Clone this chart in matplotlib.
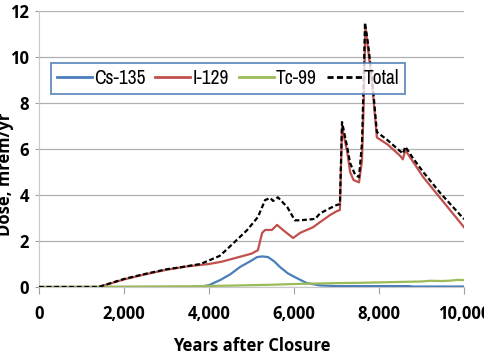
import matplotlib
matplotlib.use("Agg")
import matplotlib.pyplot as plt

# ---- data ----
cs_x = [0, 3600, 3850, 4000, 4260, 4500, 4730, 5000, 5130, 5260, 5390, 5530, 5670, 5850, 6020, 6300, 6610, 7000, 8700, 8800, 10000]
cs_y = [0, 0, 0.03, 0.08, 0.3, 0.55, 0.87, 1.15, 1.3, 1.33, 1.3, 1.12, 0.87, 0.6, 0.43, 0.17, 0.07, 0.04, 0.04, 0.02, 0.02]

i_x = [0, 1400, 2000, 2500, 3000, 3500, 4000, 4300, 4700, 5000, 5150, 5250, 5320, 5480, 5600, 5740, 5980, 6140,
       6450, 6620, 6850, 7010, 7080, 7130, 7250, 7320, 7400, 7530, 7600, 7640, 7680, 7740, 7840, 7950, 8200, 8500,
       8560, 8620, 8800, 9040, 9440, 10000]
i_y = [0, 0, 0.33, 0.55, 0.75, 0.9, 1.0, 1.1, 1.3, 1.45, 1.6, 2.35, 2.48, 2.48, 2.7, 2.48, 2.13, 2.35,
       2.6, 2.83, 3.13, 3.3, 3.35, 6.95, 5.9, 5.0, 4.65, 4.55, 5.5, 8.0, 11.3, 10.4, 8.8, 6.5, 6.2, 5.7,
       5.55, 5.95, 5.45, 4.78, 3.87, 2.6]

tc_x = [0, 1500, 2500, 3500, 4500, 5500, 6000, 6500, 7000, 7500, 8000, 8500, 9000, 9200, 9500, 9700, 9850, 10000]
tc_y = [0, 0.01, 0.02, 0.03, 0.06, 0.1, 0.13, 0.15, 0.17, 0.18, 0.2, 0.22, 0.24, 0.27, 0.26, 0.28, 0.31, 0.3]

tot_x = [0, 1400, 2000, 2500, 3000, 3300, 3800, 4250, 4400, 4570, 4900, 5150, 5320, 5440, 5510, 5620, 5840, 6020,
         6140, 6500, 6610, 6850, 7010, 7080, 7130, 7250, 7320, 7440, 7530, 7600, 7640, 7670, 7740, 7840, 7950,
         8190, 8500, 8560, 8620, 8800, 9040, 9440, 10000]
tot_y = [0, 0, 0.35, 0.57, 0.77, 0.85, 1.0, 1.35, 1.6, 1.9, 2.48, 3.04, 3.78, 3.87, 3.74, 3.9, 3.48, 2.9,
         2.9, 2.96, 3.2, 3.43, 3.57, 3.6, 7.17, 6.1, 5.39, 4.87, 4.78, 6.26, 9.0, 11.5, 10.6, 9.0, 6.74,
         6.4, 5.9, 5.8, 6.1, 5.6, 5.0, 4.09, 2.95]

x_ticks = [0, 2000, 4000, 6000, 8000, 10000]
x_tick_labels = ["0", "2,000", "4,000", "6,000", "8,000", "10,000"]
y_ticks = [0, 2, 4, 6, 8, 10, 12]

series_names = ["Cs-135", "I-129", "Tc-99", "Total"]

# ---- figure ----
fig = plt.figure(figsize=(4.85, 3.6), dpi=100)
ax = fig.add_axes([39/485, 1-287/360, 425/485, 276/360])

lw = 1.6
ax.plot(cs_x, cs_y, color="#4a7ebb", lw=lw, label=series_names[0], zorder=3)
ax.plot(i_x, i_y, color="#c0504d", lw=lw, label=series_names[1], zorder=3)
ax.plot(tc_x, tc_y, color="#9bbb59", lw=lw, label=series_names[2], zorder=3)
ax.plot(tot_x, tot_y, color="black", lw=lw, ls=(0, (2.2, 1.2)), label=series_names[3], zorder=4)

ax.set_xlim(0, 10000)
ax.set_ylim(0, 12)
ax.set_xticks(x_ticks)
ax.set_xticklabels(x_tick_labels)
ax.set_yticks(y_ticks)

bold = dict(family="Open Sans", weight="bold", size=12)
for t in ax.get_xticklabels() + ax.get_yticklabels():
    t.set_fontfamily("Open Sans")
    t.set_fontweight("bold")
    t.set_fontsize(12)

ax.grid(axis="y", color="#b0b0b0", lw=0.9)
ax.set_axisbelow(True)
for s in ["top", "right"]:
    ax.spines[s].set_visible(False)
ax.spines["left"].set_color("#c8c8c8")
ax.spines["bottom"].set_color("#c8c8c8")
ax.tick_params(axis="x", length=5, color="#a0a0a0", pad=8)
ax.tick_params(axis="y", length=3, color="#a0a0a0", pad=4)

ax.set_xlabel("Years after Closure", labelpad=10, **bold)
ax.set_ylabel("Dose, mrem/yr", **bold)
ax.yaxis.set_label_coords(-0.058, 0.41)

leg = ax.legend(loc="upper left", bbox_to_anchor=(0.028, 0.685, 0.833, 0.1266), mode="expand", ncol=4,
                frameon=True, fancybox=False, borderpad=0.3, handlelength=1.8, handletextpad=0.1,
                prop=dict(family="Archivo Narrow", size=14), borderaxespad=0)
leg.get_frame().set_edgecolor("#4a7ab5")
leg.get_frame().set_linewidth(1.4)
leg.set_zorder(5)
for h in leg.get_lines():
    h.set_linewidth(2.0)

fig.savefig("out.png", dpi=100)
